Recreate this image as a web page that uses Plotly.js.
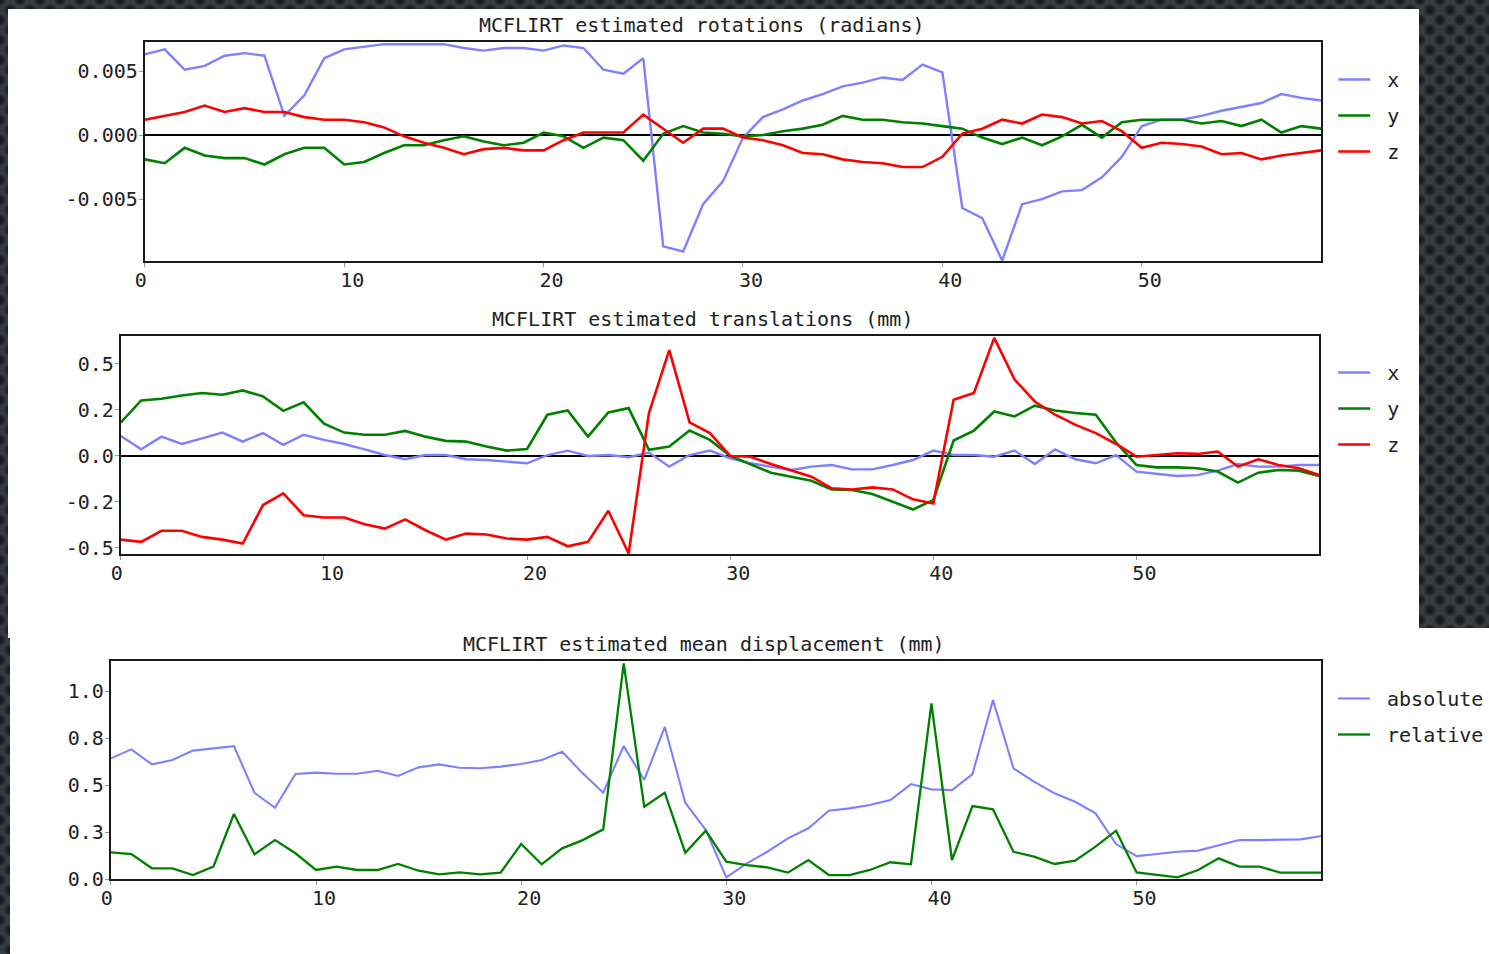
<!DOCTYPE html>
<html>
<head>
<meta charset="utf-8">
<script src="https://cdn.plot.ly/plotly-3.0.1.min.js"></script>
<style>
  html, body { margin: 0; padding: 0; width: 1489px; height: 954px; overflow: hidden; }
  body {
    background-color: #393c41;
    background-image:
      radial-gradient(circle, #16181b 0px, #1c1e22 3px, rgba(57,60,65,0) 6.5px),
      radial-gradient(circle, #16181b 0px, #1c1e22 3px, rgba(57,60,65,0) 6.5px);
    background-size: 20px 20px, 20px 20px;
    background-position: 0 0, 10px 10px;
    position: relative;
  }
  .panel { position: absolute; background: #ffffff; }
  #chart { position: absolute; left: 0; top: 0; width: 1489px; height: 954px; }
</style>
</head>
<body>
<div class="panel" style="left:8px; top:9px; width:1411px; height:629px;"></div>
<div class="panel" style="left:10px; top:628px; width:1479px; height:326px;"></div>
<div id="chart"></div>
<script>
// ---- data (volume index 0..59) ----
var volumes = [0,1,2,3,4,5,6,7,8,9,10,11,12,13,14,15,16,17,18,19,20,21,22,23,24,25,26,27,28,29,
               30,31,32,33,34,35,36,37,38,39,40,41,42,43,44,45,46,47,48,49,50,51,52,53,54,55,56,57,58,59];

// rotations (radians)
var rotX = [0.0063,0.0067,0.0051,0.0054,0.0062,0.0064,0.0062,0.0015,0.0031,0.0060,
            0.0067,0.0069,0.0071,0.0071,0.0071,0.0071,0.0068,0.0066,0.0068,0.0068,
            0.0066,0.0070,0.0068,0.0051,0.0048,0.0060,-0.0087,-0.0091,-0.0054,-0.0036,
            -0.0002,0.0014,0.0020,0.0027,0.0032,0.0038,0.0041,0.0045,0.0043,0.0055,
            0.0049,-0.0057,-0.0065,-0.0098,-0.0054,-0.0050,-0.0044,-0.0043,-0.0033,-0.0017,
            0.0007,0.0012,0.0012,0.0015,0.0019,0.0022,0.0025,0.0032,0.0029,0.0027];
var rotY = [-0.0019,-0.0022,-0.0010,-0.0016,-0.0018,-0.0018,-0.0023,-0.0015,-0.0010,-0.0010,
            -0.0023,-0.0021,-0.0014,-0.0008,-0.0008,-0.0004,-0.0001,-0.0005,-0.0008,-0.0006,
            0.0002,-0.0001,-0.0010,-0.0002,-0.0004,-0.0020,0.0001,0.0007,0.0002,0.0001,
            -0.0001,0.0000,0.0003,0.0005,0.0008,0.0015,0.0012,0.0012,0.0010,0.0009,
            0.0007,0.0005,-0.0002,-0.0007,-0.0002,-0.0008,-0.0001,0.0008,-0.0002,0.0010,
            0.0012,0.0012,0.0012,0.0009,0.0011,0.0007,0.0012,0.0002,0.0007,0.0005];
var rotZ = [0.0012,0.0015,0.0018,0.0023,0.0018,0.0021,0.0018,0.0018,0.0014,0.0012,
            0.0012,0.0010,0.0006,-0.0001,-0.0006,-0.0010,-0.0015,-0.0011,-0.0010,-0.0012,
            -0.0012,-0.0004,0.0002,0.0002,0.0002,0.0016,0.0005,-0.0006,0.0005,0.0005,
            -0.0002,-0.0004,-0.0008,-0.0014,-0.0015,-0.0019,-0.0021,-0.0022,-0.0025,-0.0025,
            -0.0017,0.0001,0.0005,0.0012,0.0009,0.0016,0.0014,0.0009,0.0011,0.0003,
            -0.0010,-0.0006,-0.0007,-0.0009,-0.0015,-0.0014,-0.0019,-0.0016,-0.0014,-0.0012];

// translations (mm)
var transX = [0.109,0.036,0.105,0.065,0.096,0.127,0.078,0.124,0.060,0.115,
              0.087,0.065,0.036,0.005,-0.018,0.005,0.005,-0.018,-0.022,-0.031,
              -0.040,0.005,0.029,0.000,0.005,-0.007,0.018,-0.058,0.005,0.029,
              -0.013,-0.040,-0.058,-0.076,-0.058,-0.049,-0.073,-0.073,-0.049,-0.022,
              0.029,0.005,0.005,-0.004,0.029,-0.044,0.036,-0.018,-0.040,0.005,
              -0.085,-0.095,-0.109,-0.104,-0.080,-0.044,-0.058,-0.058,-0.049,-0.049];
var transY = [0.182,0.302,0.311,0.329,0.342,0.333,0.356,0.324,0.245,0.291,
              0.175,0.127,0.115,0.115,0.136,0.105,0.082,0.078,0.051,0.029,
              0.038,0.224,0.247,0.105,0.236,0.260,0.033,0.051,0.138,0.087,
              0.000,-0.044,-0.091,-0.113,-0.135,-0.182,-0.185,-0.207,-0.249,-0.291,
              -0.240,0.084,0.138,0.242,0.215,0.273,0.247,0.233,0.224,0.073,
              -0.049,-0.062,-0.062,-0.067,-0.085,-0.145,-0.091,-0.076,-0.080,-0.109];
var transZ = [-0.455,-0.467,-0.407,-0.407,-0.440,-0.455,-0.476,-0.267,-0.204,-0.322,
              -0.335,-0.335,-0.371,-0.395,-0.345,-0.404,-0.455,-0.422,-0.427,-0.449,
              -0.455,-0.440,-0.491,-0.467,-0.298,-0.530,0.233,0.575,0.182,0.124,
              0.000,-0.004,-0.044,-0.080,-0.113,-0.176,-0.182,-0.171,-0.182,-0.236,
              -0.258,0.305,0.342,0.642,0.415,0.296,0.224,0.169,0.124,0.065,
              -0.004,0.005,0.015,0.011,0.024,-0.058,-0.018,-0.049,-0.067,-0.104];

// mean displacement (mm)
var dispAbs = [0.642,0.690,0.610,0.633,0.683,0.695,0.707,0.459,0.379,0.559,
               0.566,0.560,0.560,0.576,0.548,0.594,0.610,0.592,0.589,0.598,
               0.612,0.633,0.677,0.562,0.459,0.707,0.527,0.810,0.406,0.261,
               0.009,0.083,0.145,0.216,0.270,0.363,0.376,0.394,0.420,0.505,
               0.477,0.473,0.558,0.952,0.589,0.518,0.456,0.411,0.349,0.186,
               0.122,0.133,0.145,0.151,0.181,0.207,0.207,0.207,0.211,0.229];
var dispRel = [0.142,0.133,0.057,0.057,0.021,0.066,0.346,0.131,0.207,0.137,
               0.048,0.066,0.048,0.048,0.080,0.044,0.025,0.035,0.025,0.034,
               0.186,0.078,0.163,0.207,0.264,1.147,0.385,0.459,0.140,0.257,
               0.092,0.074,0.062,0.034,0.101,0.021,0.021,0.048,0.089,0.078,
               0.934,0.101,0.388,0.371,0.145,0.119,0.080,0.098,0.172,0.257,
               0.035,0.021,0.009,0.048,0.110,0.066,0.066,0.034,0.034,0.034];

// titles, series names, tick labels
var titles = ["MCFLIRT estimated rotations (radians)",
              "MCFLIRT estimated translations (mm)",
              "MCFLIRT estimated mean displacement (mm)"];
var axisNames = ["x", "y", "z"];
var dispNames = ["absolute", "relative"];
var xTickVals = [0, 10, 20, 30, 40, 50];
var rotTickVals = [-0.005, 0, 0.005];
var rotTickText = ["-0.005", "0.000", "0.005"];
var transTickVals = [-0.5, -0.25, 0, 0.25, 0.5];
var transTickText = ["-0.5", "-0.2", "0.0", "0.2", "0.5"];
var dispTickVals = [0, 0.25, 0.5, 0.75, 1.0];
var dispTickText = ["0.0", "0.3", "0.5", "0.8", "1.0"];

// ---- styling ----
var W = 1489, H = 954;
var FONT = "DejaVu Sans Mono, Liberation Mono, monospace";
var TXT = "#222222";
var colors = ["#8080ff", "#008000", "#ff0000"];
var PAD = "\u00a0"; // extra gap between legend line sample and label, as in the original

function px(x) { return x / W; }
function py(y) { return 1 - y / H; }

function mk(x, y, name, color, xa, ya, leg, width) {
  return { type: "scatter", mode: "lines", x: x, y: y, name: PAD + name,
           xaxis: xa, yaxis: ya, legend: leg, legendgroup: leg + name,
           line: { color: color, width: width }, hoverinfo: "skip" };
}

var traces = [
  mk(volumes, rotX, axisNames[0], colors[0], "x", "y", "legend", 2.4),
  mk(volumes, rotY, axisNames[1], colors[1], "x", "y", "legend", 2.6),
  mk(volumes, rotZ, axisNames[2], colors[2], "x", "y", "legend", 2.6),
  mk(volumes, transX, axisNames[0], colors[0], "x2", "y2", "legend2", 2.4),
  mk(volumes, transY, axisNames[1], colors[1], "x2", "y2", "legend2", 2.6),
  mk(volumes, transZ, axisNames[2], colors[2], "x2", "y2", "legend2", 2.6),
  mk(volumes, dispAbs, dispNames[0], colors[0], "x3", "y3", "legend3", 2.1),
  mk(volumes, dispRel, dispNames[1], colors[1], "x3", "y3", "legend3", 2.3)
];

function xax(d0, d1, anchor) {
  return { domain: [px(d0), px(d1)], anchor: anchor, range: [0, 59],
           tickvals: xTickVals, ticks: "outside", ticklen: 4, tickcolor: "#999",
           ticklabelstandoff: -4, ticklabelshift: 8,
           showline: true, mirror: true, linecolor: "#1a1a1a", linewidth: 2,
           showgrid: false, zeroline: false,
           tickfont: { family: FONT, size: 20, color: TXT } };
}
function yax(t, b, anchor, range, vals, text, zl) {
  return { domain: [py(b), py(t)], anchor: anchor, range: range,
           tickvals: vals, ticktext: text, ticks: "outside", ticklen: 4, tickcolor: "#999",
           ticklabelstandoff: -3,
           showline: true, mirror: true, linecolor: "#1a1a1a", linewidth: 2,
           showgrid: false, zeroline: zl, zerolinecolor: "#000", zerolinewidth: 1.5,
           tickfont: { family: FONT, size: 20, color: TXT } };
}
function leg(top) {
  return { x: px(1335), y: py(top), xanchor: "left", yanchor: "top",
           bgcolor: "rgba(0,0,0,0)", borderwidth: 0, traceorder: "grouped",
           tracegroupgap: 7, itemwidth: 32,
           font: { family: FONT, size: 20, color: TXT } };
}
function ttl(text, xc, yc) {
  return { text: text, xref: "paper", yref: "paper", x: px(xc), y: py(yc),
           xanchor: "center", yanchor: "middle", showarrow: false,
           font: { family: FONT, size: 20, color: TXT } };
}

var layout = {
  width: W, height: H,
  margin: { l: 0, r: 0, t: 0, b: 0, pad: 0 },
  paper_bgcolor: "rgba(0,0,0,0)", plot_bgcolor: "#ffffff",
  showlegend: true,
  font: { family: FONT, size: 20, color: TXT },
  xaxis: xax(145, 1323, "y"),
  yaxis: yax(42, 261, "x", [-0.00984, 0.00727], rotTickVals, rotTickText, true),
  xaxis2: xax(121, 1321, "y2"),
  yaxis2: yax(336, 554, "x2", [-0.533, 0.652], transTickVals, transTickText, true),
  xaxis3: xax(111, 1323, "y3"),
  yaxis3: yax(661, 879, "x3", [0, 1.16], dispTickVals, dispTickText, false),
  legend: leg(60),
  legend2: leg(353),
  legend3: leg(679),
  annotations: [ ttl(titles[0], 703, 25), ttl(titles[1], 703, 319), ttl(titles[2], 705, 644) ]
};

Plotly.newPlot("chart", traces, layout, { displayModeBar: false, staticPlot: true }).then(function (gd) {
  // single-digit "0" labels sit slightly left of their tick in the original
  gd.querySelectorAll(".xtick text, .x2tick text, .x3tick text").forEach(function (t) {
    if (t.textContent === "0") {
      var tr = t.getAttribute("transform") || "";
      t.setAttribute("transform", tr + " translate(-12,0)");
    }
  });
});
</script>
</body>
</html>
